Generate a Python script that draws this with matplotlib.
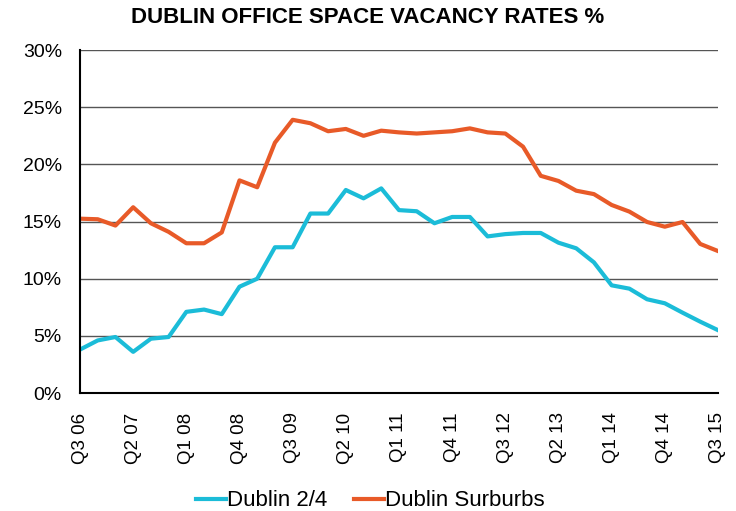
import matplotlib.pyplot as plt
from matplotlib.ticker import FuncFormatter

plt.rcParams['font.family'] = ['Liberation Sans', 'DejaVu Sans']

quarters = ['Q3 06', 'Q4 06', 'Q1 07', 'Q2 07', 'Q3 07', 'Q4 07', 'Q1 08', 'Q2 08', 'Q3 08',
            'Q4 08', 'Q1 09', 'Q2 09', 'Q3 09', 'Q4 09', 'Q1 10', 'Q2 10', 'Q3 10', 'Q4 10',
            'Q1 11', 'Q2 11', 'Q3 11', 'Q4 11', 'Q1 12', 'Q2 12', 'Q3 12', 'Q4 12', 'Q1 13',
            'Q2 13', 'Q3 13', 'Q4 13', 'Q1 14', 'Q2 14', 'Q3 14', 'Q4 14', 'Q1 15', 'Q2 15',
            'Q3 15']

dublin_24 = [3.8, 4.6, 4.9, 3.6, 4.75, 4.9, 7.1, 7.3, 6.9, 9.3, 10.0, 12.75, 12.75,
             15.7, 15.7, 17.76, 17.03, 17.9, 16.0, 15.9, 14.85, 15.4, 15.4, 13.7, 13.9,
             14.0, 14.0, 13.15, 12.66, 11.43, 9.42, 9.13, 8.2, 7.85, 7.03, 6.24, 5.5]

dublin_suburbs = [15.25, 15.2, 14.65, 16.25, 14.85, 14.1, 13.1, 13.1, 14.05, 18.6, 18.0,
                  21.9, 23.9, 23.6, 22.9, 23.1, 22.5, 22.95, 22.8, 22.7, 22.8, 22.9, 23.15,
                  22.8, 22.7, 21.55, 19.0, 18.55, 17.7, 17.4, 16.45, 15.87, 14.96, 14.55,
                  14.96, 13.04, 12.42]

x = list(range(len(quarters)))

fig = plt.figure(figsize=(7.36, 5.11), dpi=100)
ax = fig.add_axes([0.1087, 0.2309, 0.8668, 0.6711])

ax.plot(x, dublin_24, color='#1BBCD8', linewidth=3, label='Dublin 2/4')
ax.plot(x, dublin_suburbs, color='#E85A28', linewidth=3, label='Dublin Surburbs')

ax.set_xlim(0, len(quarters) - 1)
ax.set_ylim(0, 30)
ax.set_yticks(range(0, 31, 5))
ax.yaxis.set_major_formatter(FuncFormatter(lambda v, p: '%d%%' % v))
ax.set_xticks(x[::3])
ax.set_xticklabels(quarters[::3], rotation=90)
ax.tick_params(axis='y', length=0, labelsize=14, pad=13)
ax.tick_params(axis='x', length=0, labelsize=13.5, pad=14)
ax.grid(axis='y', color='#555555', linewidth=1)
ax.set_axisbelow(True)
for s in ['top', 'right']:
    ax.spines[s].set_visible(False)
for s in ['left', 'bottom']:
    ax.spines[s].set_linewidth(1.5)
    ax.spines[s].set_color('black')

fig.text(0.5, 0.965, 'DUBLIN OFFICE SPACE VACANCY RATES %', ha='center', va='center',
         fontsize=16, fontweight='bold')
fig.legend(loc='center', bbox_to_anchor=(0.503, 0.02), ncol=2, frameon=False,
           fontsize=16, handlelength=1.35, handletextpad=0.05, columnspacing=1.2)

fig.savefig('out.png', dpi=100)
